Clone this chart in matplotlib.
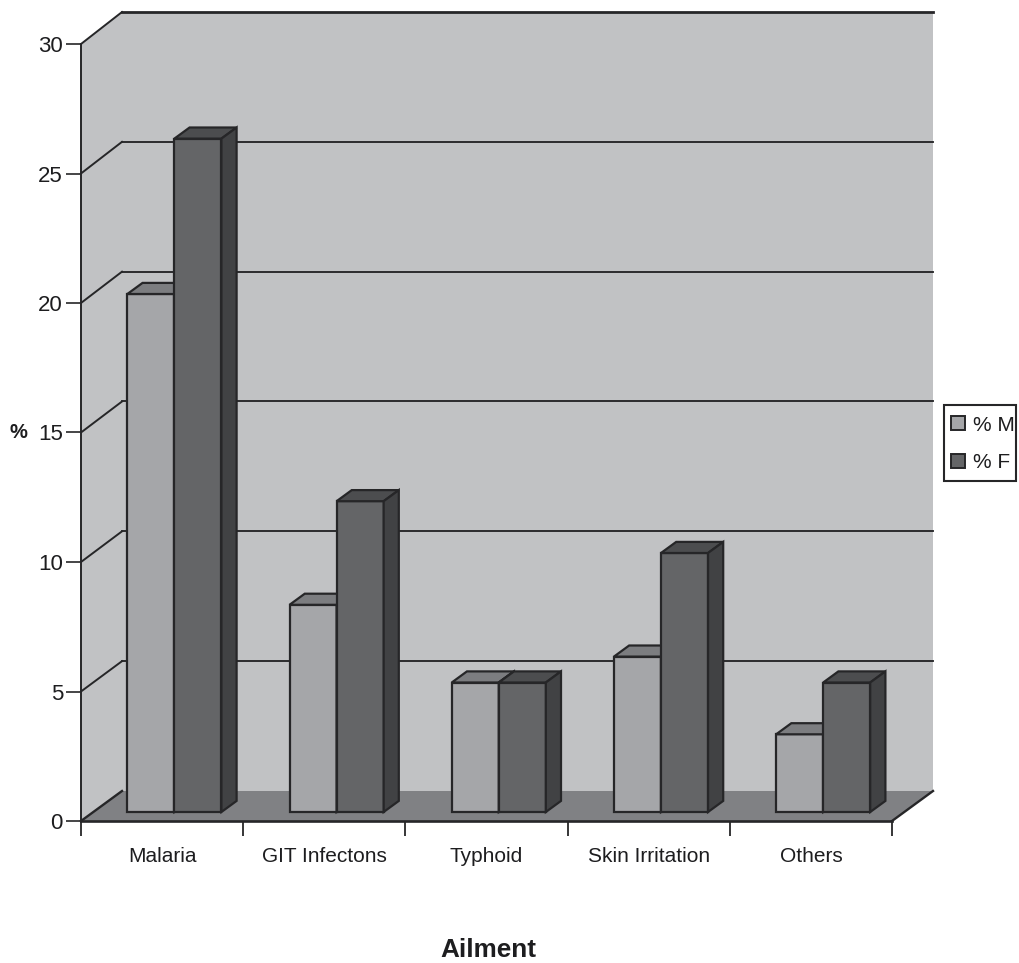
#!/usr/bin/env python3

import matplotlib
matplotlib.use("Agg")
import matplotlib.pyplot as plt
from matplotlib.patches import Patch, Polygon, Rectangle

plt.rcParams["font.family"] = ["Liberation Sans", "DejaVu Sans"]

ailments = ["Malaria", "GIT Infectons", "Typhoid", "Skin Irritation", "Others"]
male = [20, 8, 5, 6, 3]
female = [26, 12, 5, 10, 5]
yticks = [0, 5, 10, 15, 20, 25, 30]

W, H = 1020, 963
DARK = "#262628"
WALL = "#c1c2c4"
FLOOR = "#808184"
# front, top, side shades of each series
M_COLS = ("#a5a6a9", "#7c7d80", "#55565a")
F_COLS = ("#646567", "#4c4d4f", "#414244")

# chart depth in data units
DX = 41 / 811 * len(ailments)
DY = 30 / 777 * yticks[-1]
BACK_SCALE = 779 / 777   # back wall comes out slightly taller than the front plane
BAR_W = 0.29
BAR_POS = 0.30   # where the bars stand on the floor, fraction of depth
BAR_DEPTH = 0.37


def back(v):
    return v * BACK_SCALE + DY


def bar3d(ax, x, val, cols):
    x0 = x + BAR_POS * DX
    y0 = BAR_POS * DY
    dx = BAR_DEPTH * DX
    dy = BAR_DEPTH * DY
    kw = dict(edgecolor=DARK, linewidth=1.6, joinstyle="miter", clip_on=False)
    ax.bar(x0, val, BAR_W, bottom=y0, align="edge", color=cols[0], zorder=3, **kw)
    top = [(x0, y0 + val), (x0 + dx, y0 + val + dy),
           (x0 + BAR_W + dx, y0 + val + dy), (x0 + BAR_W, y0 + val)]
    side = [(x0 + BAR_W, y0), (x0 + BAR_W + dx, y0 + dy),
            (x0 + BAR_W + dx, y0 + val + dy), (x0 + BAR_W, y0 + val)]
    ax.add_patch(Polygon(top, facecolor=cols[1], zorder=3, **kw))
    ax.add_patch(Polygon(side, facecolor=cols[2], zorder=3, **kw))


fig = plt.figure(figsize=(W / 100, H / 100), dpi=100)
ax = fig.add_axes([81 / W, (H - 821) / H, 811 / W, 777 / H])
n = len(ailments)
ax.set_xlim(0, n)
ax.set_ylim(0, yticks[-1])
ax.patch.set_visible(False)

# walls and floor
ymax = yticks[-1]
ax.add_patch(Polygon([(DX, DY), (n + DX, DY), (n + DX, back(ymax)), (DX, back(ymax))],
                     facecolor=WALL, edgecolor="none", clip_on=False, zorder=0))
ax.add_patch(Polygon([(0, 0), (DX, DY), (DX, back(ymax)), (0, ymax)],
                     facecolor=WALL, edgecolor="none", clip_on=False, zorder=0))
ax.add_patch(Polygon([(0, 0), (n, 0), (n + DX, DY), (DX, DY)],
                     facecolor=FLOOR, edgecolor="none", clip_on=False, zorder=1))

# grid lines run round the left wall and along the back wall
for v in yticks:
    ax.plot([0, DX], [v, back(v)], color=DARK, lw=1.7 if v == 0 else 1.4,
            clip_on=False, zorder=2)
    if v > 0:
        ax.plot([DX, n + DX], [back(v), back(v)], color=DARK,
                lw=2.0 if v == ymax else 1.35, clip_on=False, zorder=2)
ax.plot([n, n + DX], [0, DY], color=DARK, lw=1.7, clip_on=False, zorder=2)

for i in range(n):
    bar3d(ax, i + 0.5 - BAR_W, male[i], M_COLS)
    bar3d(ax, i + 0.5, female[i], F_COLS)

for s in ["top", "right"]:
    ax.spines[s].set_visible(False)
ax.spines["left"].set_color(DARK)
ax.spines["left"].set_linewidth(1.4)
ax.spines["bottom"].set_color(DARK)
ax.spines["bottom"].set_linewidth(1.9)
for s in ["left", "bottom"]:
    ax.spines[s].set_zorder(4)

ax.set_yticks(yticks)
ax.tick_params(axis="y", length=11, width=1.2, color=DARK, labelsize=16,
               labelcolor="#1d1d1f", pad=2)
ax.set_xticks(range(n + 1))
ax.set_xticklabels([])
ax.tick_params(axis="x", which="major", length=11, width=1.3, color=DARK)
ax.set_xticks([i + 0.5 for i in range(n)], minor=True)
ax.set_xticklabels(ailments, minor=True)
ax.tick_params(axis="x", which="minor", length=0, pad=19, labelsize=15,
               labelcolor="#1d1d1f")

fig.text(488 / W, 1 - 957 / H, "Ailment", fontsize=18.8, fontweight="bold",
         ha="center", va="baseline", color="#1d1d1f")
fig.text(18 / W, 1 - 432 / H, "%", fontsize=14.5, fontweight="bold",
         ha="center", va="center", color="#1d1d1f")

# legend box
fig.add_artist(Rectangle((944 / W, 1 - 481 / H), 72 / W, 76 / H, transform=fig.transFigure,
                         facecolor="white", edgecolor=DARK, linewidth=1.5))
handles = [Patch(facecolor=M_COLS[0], edgecolor=DARK, linewidth=1.4, label="% M"),
           Patch(facecolor=F_COLS[0], edgecolor=DARK, linewidth=1.4, label="% F")]
fig.legend(handles=handles, loc="center left", bbox_to_anchor=(951 / W, 1 - 444 / H),
           frameon=False, fontsize=15, handlelength=0.67, handleheight=0.67,
           handletextpad=0.4, labelspacing=0.9, borderpad=0, borderaxespad=0,
           labelcolor="#1d1d1f")

plt.savefig("out.png", dpi=100)
plt.close(fig)
